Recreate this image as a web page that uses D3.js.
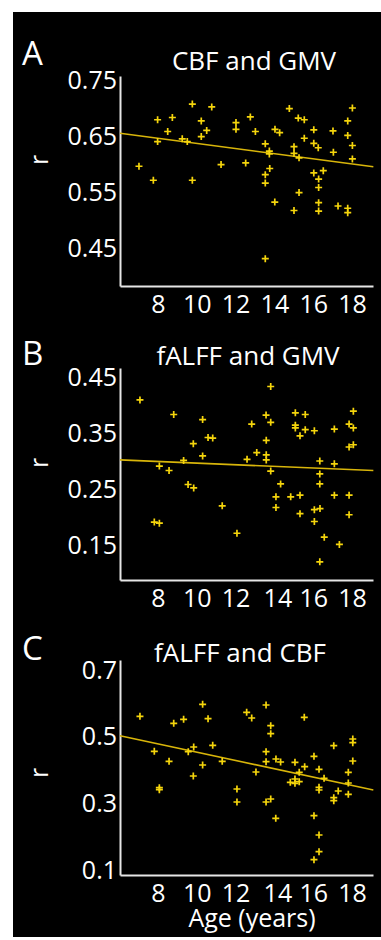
<html>
<head>
  <script src="https://d3js.org/d3.v7.min.js"></script>
  <style>
    body { margin: 0; background: #fff; }
    text { font-family: "Open Sans", sans-serif; fill: #fff; }
    .axis .domain { stroke: #e6e6e6; stroke-width: 2; }
    .axis text { font-family: "Open Sans", sans-serif; fill: #fff; font-size: 25px; }
  </style>
</head>
<body>
  <svg width="381" height="940" id="fig"></svg>
  <script>
    // ages (x) and correlation (r)
    const ageA = [7.02,7.76,7.98,7.98,8.50,8.74,9.25,9.51,9.77,9.77,10.23,10.23,10.51,10.77,11.25,12.02,12.02,12.52,12.76,13.02,13.53,13.53,13.53,13.53,13.74,13.74,13.76,14.02,14.03,14.27,14.77,15.01,15.01,15.01,15.23,15.27,15.27,15.54,15.54,16.03,16.03,16.03,16.26,16.28,16.28,16.28,16.28,16.52,17.02,17.04,17.28,17.78,17.78,17.78,17.78,18.02,18.02,18.02];
    const rA = [0.596,0.571,0.679,0.640,0.658,0.683,0.645,0.640,0.707,0.571,0.677,0.649,0.660,0.702,0.599,0.674,0.662,0.602,0.684,0.658,0.636,0.581,0.566,0.431,0.623,0.618,0.592,0.532,0.662,0.656,0.699,0.631,0.619,0.517,0.682,0.611,0.549,0.679,0.646,0.661,0.637,0.584,0.629,0.573,0.558,0.531,0.516,0.588,0.659,0.621,0.525,0.677,0.651,0.521,0.513,0.700,0.633,0.609];

    const ageB = [7.07,7.81,8.07,8.07,8.57,8.81,9.32,9.55,9.82,9.84,10.30,10.30,10.58,10.82,11.31,12.07,12.59,12.83,13.09,13.57,13.58,13.58,13.58,13.81,13.81,13.81,14.08,14.08,14.32,14.84,15.08,15.08,15.08,15.32,15.32,15.32,15.59,15.59,16.06,16.06,16.06,16.34,16.34,16.34,16.35,16.34,16.57,17.09,17.09,17.09,17.35,17.85,17.85,17.85,17.85,18.07,18.07,18.07];
    const rB = [0.409,0.191,0.189,0.291,0.283,0.383,0.301,0.258,0.331,0.252,0.374,0.309,0.342,0.341,0.220,0.171,0.303,0.366,0.315,0.382,0.337,0.311,0.302,0.433,0.369,0.282,0.236,0.217,0.259,0.236,0.386,0.364,0.359,0.345,0.239,0.206,0.383,0.356,0.354,0.213,0.192,0.300,0.277,0.259,0.215,0.120,0.164,0.357,0.295,0.239,0.151,0.366,0.325,0.239,0.204,0.389,0.359,0.329];

    const ageC = [7.07,7.81,8.07,8.07,8.57,8.81,9.32,9.56,9.84,9.82,10.30,10.30,10.58,10.82,11.31,12.07,12.07,12.57,12.83,13.05,13.57,13.57,13.57,13.57,13.81,13.81,13.81,14.08,14.07,14.32,14.82,15.06,15.06,15.06,15.28,15.28,15.54,15.56,16.04,16.04,16.30,16.30,16.30,16.30,16.30,16.04,16.56,17.06,17.06,17.06,17.29,17.81,17.81,17.81,18.04,18.04,18.04];
    const rC = [0.561,0.456,0.347,0.341,0.426,0.540,0.552,0.455,0.469,0.382,0.597,0.415,0.554,0.474,0.426,0.343,0.304,0.573,0.556,0.394,0.595,0.455,0.425,0.304,0.533,0.509,0.313,0.433,0.255,0.424,0.363,0.423,0.373,0.360,0.393,0.365,0.558,0.410,0.441,0.263,0.402,0.348,0.340,0.205,0.155,0.131,0.375,0.473,0.317,0.308,0.337,0.393,0.361,0.327,0.493,0.482,0.427];

    // regression line r at the two ends of the age axis
    const fitAges = [6.04, 19.1];
    const fitA = [0.655, 0.595];
    const fitB = [0.302, 0.283];
    const fitC = [0.503, 0.340];

    const ageTicks = [8, 10, 12, 14, 16, 18];
    const ticksA = [0.45, 0.55, 0.65, 0.75];
    const ticksB = [0.15, 0.25, 0.35, 0.45];
    const ticksC = [0.1, 0.3, 0.5, 0.7];

    const svg = d3.select("#fig");

    // black panel
    svg.append("rect")
      .attr("x", 13).attr("y", 12)
      .attr("width", 368).attr("height", 925)
      .attr("fill", "#000");

    // x scale shared by the three panels
    const x = d3.scaleLinear().domain([8, 18]).range([158, 352]);
    x.domain([x.invert(120), x.invert(373)]).range([120, 373]);

    const yellow = "#f5d50c";
    const lineCol = "#d8b50a";

    function drawPanel(p) {
      // y scale from tick positions, then stretched to the axis ends
      const y = d3.scaleLinear().domain([p.yTicks[0], p.yTicks[3]]).range([p.yLow, p.yHigh]);
      y.domain([y.invert(p.axisBottom), y.invert(p.axisTop)]).range([p.axisBottom, p.axisTop]);

      const g = svg.append("g");

      g.append("g")
        .attr("class", "axis")
        .attr("transform", `translate(120,0)`)
        .call(d3.axisLeft(y).tickValues(p.yTicks).tickSize(0).tickSizeOuter(0).tickPadding(3).tickFormat(d3.format(p.fmt)));

      const bx = g.append("g")
        .attr("class", "axis")
        .attr("transform", `translate(0,${p.axisBottom})`)
        .call(d3.axisBottom(x).tickValues(ageTicks).tickSize(0).tickSizeOuter(0).tickPadding(9).tickFormat(d3.format("d")));
      if (p.squeeze) {
        bx.selectAll(".tick text").attr("dx", d => d == 14 ? 3 : 0);
      }

      // fit line
      g.append("line")
        .attr("x1", x(fitAges[0])).attr("y1", y(p.fit[0]))
        .attr("x2", x(fitAges[1])).attr("y2", y(p.fit[1]))
        .attr("stroke", lineCol).attr("stroke-width", 1.6);

      // plus markers
      g.selectAll(".pt")
        .data(d3.range(p.ages.length))
        .join("path")
        .attr("class", "pt")
        .attr("transform", i => `translate(${x(p.ages[i])},${y(p.rs[i])})`)
        .attr("d", "M-3.5,0H3.5M0,-3.5V3.5")
        .attr("stroke", yellow)
        .attr("stroke-width", 1.7)
        .attr("fill", "none");

      g.append("text")
        .attr("x", 22).attr("y", p.letterY)
        .style("font-size", "33px")
        .text(p.letter);

      g.append("text")
        .attr("x", p.titleX).attr("y", p.titleY)
        .attr("text-anchor", "middle")
        .style("font-size", "26px")
        .text(p.title);

      g.append("text")
        .attr("transform", `translate(48,${p.rY}) rotate(-90)`)
        .attr("text-anchor", "middle")
        .style("font-size", "25px")
        .text("r");
    }

    drawPanel({ letter: "A", title: "CBF and GMV", ages: ageA, rs: rA, fit: fitA, yTicks: ticksA, fmt: ".2f",
      yLow: 248, yHigh: 80, axisTop: 76, axisBottom: 286, letterY: 65, titleX: 254, titleY: 70, rY: 160 });
    drawPanel({ letter: "B", title: "fALFF and GMV", ages: ageB, rs: rB, fit: fitB, yTicks: ticksB, fmt: ".2f",
      yLow: 545, yHigh: 377, axisTop: 368, axisBottom: 580, letterY: 365, titleX: 248, titleY: 365, rY: 463, squeeze: true });
    drawPanel({ letter: "C", title: "fALFF and CBF", ages: ageC, rs: rC, fit: fitC, yTicks: ticksC, fmt: ".1f",
      yLow: 870, yHigh: 670, axisTop: 660, axisBottom: 875, letterY: 660, titleX: 240, titleY: 662, rY: 773, squeeze: true });

    svg.append("text")
      .attr("x", 252).attr("y", 927)
      .attr("text-anchor", "middle")
      .style("font-size", "25px")
      .text("Age (years)");
  </script>
</body>
</html>
